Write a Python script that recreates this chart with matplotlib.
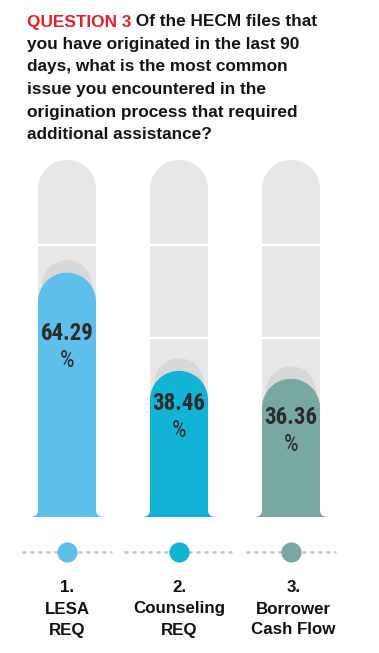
import numpy as np
import matplotlib
matplotlib.use("Agg")
import matplotlib.pyplot as plt
from matplotlib.patches import Polygon

# ---- data ----
categories = ["1.\nLESA\nREQ", "2.\nCounseling\nREQ", "3.\nBorrower\nCash Flow"]
values = [64.29, 38.46, 36.36]
value_texts = ["64.29", "38.46", "36.36"]
bar_colors = ["#5DBFEA", "#12B4D6", "#79A8A3"]
title_red = "QUESTION 3"
title_lines = [" Of the HECM files that",
               "you have originated in the last 90",
               "days, what is the most common",
               "issue you encountered in the",
               "origination process that required",
               "additional assistance?"]

W, H = 379, 653
DPI = 100
fig = plt.figure(figsize=(W / DPI, H / DPI), dpi=DPI)
fig.patch.set_facecolor("white")
ax = fig.add_axes([0, 0, 1, 1])
ax.set_axis_off()

# pixel geometry -> data mapping
px_per_x = 112.0
px_per_y = 3.8
x0_px = 67.0      # centre of first bar
base_px = 517.0   # bar baseline (from top)
ax.set_xlim(1 - x0_px / px_per_x, 1 + (W - x0_px) / px_per_x)
ax.set_ylim((base_px - H) / px_per_y, base_px / px_per_y)

bar_w = 58 / px_per_x
tube_top = 357 / px_per_y


def capped(cx, h, w, color, z, flare=0.0, flare_h=0.0):
    rx = w / 2
    r_y = rx * px_per_x / px_per_y
    left, right = cx - rx, cx + rx
    pts = []
    t = np.linspace(0, 1, 12)
    if flare > 0:
        bx = (1 - t) ** 2 * (left - flare) + 2 * (1 - t) * t * left + t ** 2 * left
        by = t ** 2 * flare_h
        pts += list(zip(bx, by))
    else:
        pts.append((left, 0))
    ang = np.linspace(np.pi, 0, 60)
    pts += list(zip(cx + rx * np.cos(ang), (h - r_y) + r_y * np.sin(ang)))
    if flare > 0:
        bx = (1 - t) ** 2 * right + 2 * (1 - t) * t * right + t ** 2 * (right + flare)
        by = (1 - t) ** 2 * flare_h
        pts += list(zip(bx, by))
    else:
        pts.append((right, 0))
    ax.add_patch(Polygon(pts, closed=True, facecolor=color, edgecolor="none", zorder=z))


xs = np.arange(1, len(values) + 1)
label_offsets = [15.9, 8.5, 10.3]
val_font = ["Roboto Condensed", "Roboto", "DejaVu Sans"]
for i, (x, v, c) in enumerate(zip(xs, values, bar_colors)):
    capped(x, tube_top, bar_w, "#E7E7E7", 1)
    for yl in (71.6, 47.1):
        ax.plot([x - bar_w / 2, x + bar_w / 2], [yl, yl], color="white", lw=1.6, zorder=2,
                solid_capstyle="butt")
    capped(x, v + 3.3, bar_w * 0.86, "#D8D8D8", 3)
    capped(x, v, bar_w, c, 4, flare=9 / px_per_x, flare_h=1.8)
    ty = v - label_offsets[i]
    ax.text(x, ty, value_texts[i], ha="center", va="center",
            fontsize=16.5, fontweight="bold", color="#2B2B2B",
            family=val_font, zorder=5)
    ax.text(x, ty - 27 / px_per_y, "%", ha="center", va="center",
            fontsize=16.5, fontweight="normal", color="#2B2B2B",
            family=val_font, zorder=5)

# dotted line row with dots
dot_y = (base_px - 552) / px_per_y
for i, (x, c) in enumerate(zip(xs, bar_colors)):
    half = 0.49 if i == 1 else 0.40
    ax.plot([x - half, x + half], [dot_y, dot_y], color="#C4C4C4", lw=1.8,
            linestyle=(0, (1.6, 1.6)), zorder=1)
    ax.plot([x], [dot_y], marker="o", markersize=14.5, color=c, markeredgewidth=0, zorder=3)

# category labels
lab_y = (base_px - 609) / px_per_y
lab_x = [0.0, 0.0, 0.02]
for i, (x, cat) in enumerate(zip(xs, categories)):
    ax.text(x + lab_x[i], lab_y, cat, ha="center", va="center", fontsize=12.2,
            fontweight="bold", color="#111111", linespacing=1.5,
            family=["Liberation Sans", "DejaVu Sans"])

# title
title_x = 27 / W
line_centers = [22, 44.5, 67, 89.5, 112, 134.5]
fs_title = 12.4
fig.canvas.draw()
renderer = fig.canvas.get_renderer()
t_red = fig.text(title_x, 1 - line_centers[0] / H, title_red, color="#E3202B",
                 fontsize=fs_title, fontweight="bold", va="center", ha="left",
                 family=["Liberation Sans", "DejaVu Sans"])
bb = t_red.get_window_extent(renderer=renderer)
fig.text(bb.x1 / W, 1 - line_centers[0] / H, title_lines[0], color="#141414",
         fontsize=fs_title, fontweight="bold", va="center", ha="left",
         family=["Liberation Sans", "DejaVu Sans"])
for yc, line in zip(line_centers[1:], title_lines[1:]):
    fig.text(title_x, 1 - yc / H, line, color="#141414", fontsize=fs_title,
             fontweight="bold", va="center", ha="left",
             family=["Liberation Sans", "DejaVu Sans"])

fig.savefig("out.png", dpi=DPI, facecolor="white")
